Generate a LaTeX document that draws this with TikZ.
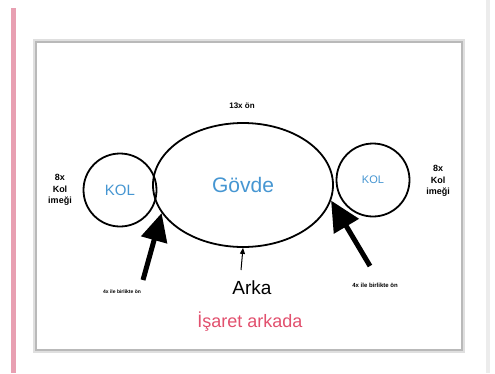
\documentclass[tikz,border=0pt]{standalone}
\usepackage{fontspec}
\setmainfont{Liberation Sans}
\usetikzlibrary{arrows.meta,shapes.geometric}
\definecolor{kolblue}{RGB}{70,150,210}
\definecolor{pinkline}{RGB}{232,160,178}
\definecolor{isaretred}{RGB}{226,80,110}

\begin{document}
\begin{tikzpicture}[x=1pt,y=-1pt]
\useasboundingbox (0,0) rectangle (495,373);
% page edges and frame
\fill[pinkline] (11,8) rectangle (16,373);
\fill[gray!15] (486,0) rectangle (490,373);
\draw[gray!25, line width=6pt] (36,42) rectangle (462,350);
\draw[gray!55, line width=1.2pt] (36,42) rectangle (462,350);
\fill[white] (37,43) rectangle (461,349);
% parts
\node[draw, ellipse, line width=1.8pt, minimum width=180pt, minimum height=124pt, inner sep=0pt, text=kolblue, font=\fontsize{21}{23}\selectfont] (govde) at (243,185) {Gövde};
\node[draw, circle, line width=1.8pt, minimum size=73pt, inner sep=0pt, text=kolblue, font=\fontsize{15}{17}\selectfont] (kolL) at (120,190) {KOL};
\node[draw, circle, line width=1.8pt, minimum size=73pt, inner sep=0pt, text=kolblue, font=\fontsize{11}{13}\selectfont] (kolR) at (373,180) {KOL};
% labels
\node[font=\bfseries\fontsize{8}{9}\selectfont] (on) at (242,106) {13x ön};
\node[align=center, font=\bfseries\fontsize{9}{11.5}\selectfont] (imegL) at (60,190) {8x\\Kol\\imeği};
\node[align=center, font=\bfseries\fontsize{9}{11.5}\selectfont] (imegR) at (438,181) {8x\\Kol\\imeği};
\node[font=\bfseries\fontsize{5}{6}\selectfont] (birL) at (122,292) {4x ile birlikte ön};
\node[font=\bfseries\fontsize{6}{7}\selectfont] (birR) at (375,285) {4x ile birlikte ön};
\node[font=\fontsize{19}{21}\selectfont] (arka) at (252,288) {Arka};
\node[text=isaretred, font=\fontsize{18}{20}\selectfont] (isaret) at (250,322) {İşaret arkada};
% arrows
\coordinate (lbase) at (143,280);
\coordinate (rbase) at (370,266);
\coordinate (abase) at (241,270);
\path[draw, line width=5pt, -{Triangle[width=26pt, length=28pt]}] (lbase) -- (govde.199);
\path[draw, line width=5pt, -{Triangle[width=28pt, length=30pt]}] (rbase) -- (govde.-10);
\path[draw, line width=1pt, -{Triangle[width=5pt, length=6pt]}] (abase) -- (govde.south);
\end{tikzpicture}
\end{document}
